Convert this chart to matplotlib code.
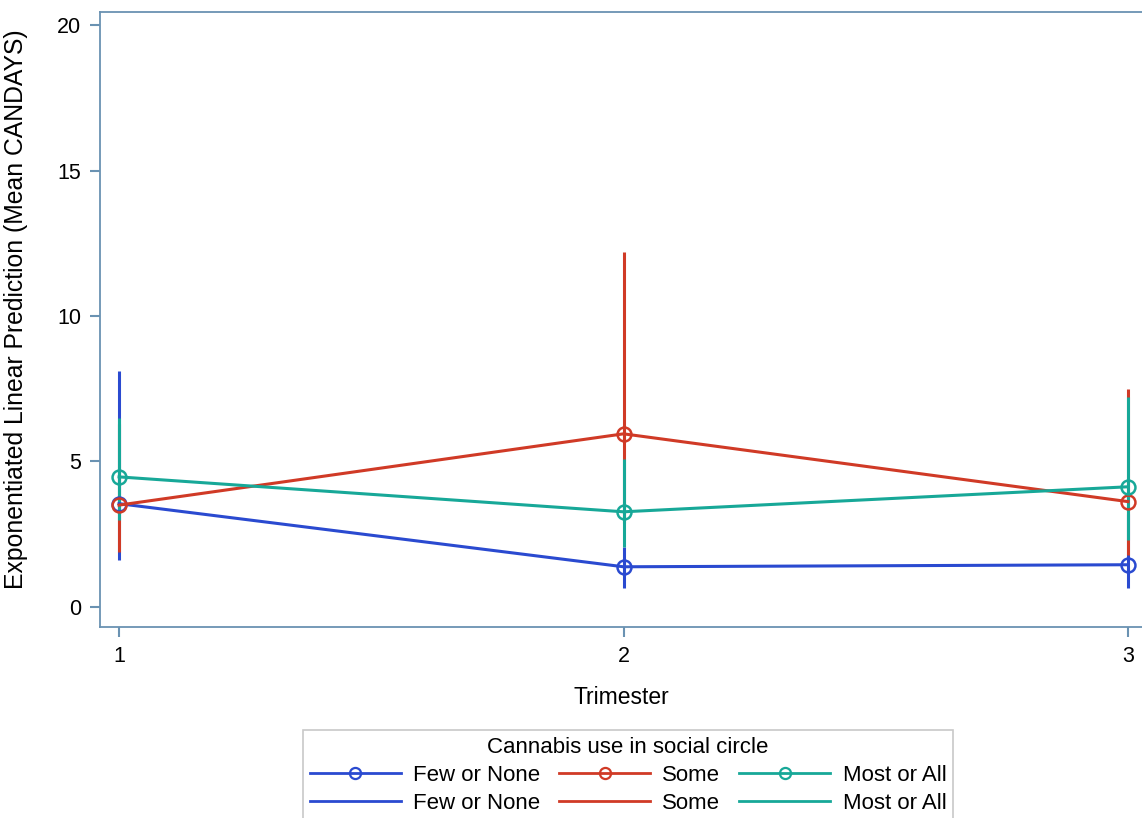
import numpy as np
import matplotlib
matplotlib.use('Agg')
import matplotlib.pyplot as plt
from matplotlib.lines import Line2D

# --- datos ---
trimestre = [1, 2, 3]
grupos = ['Few or None', 'Some', 'Most or All']
colores = ['#2a4ad0', '#d03a26', '#17a898']

media_few = [3.55, 1.38, 1.45]
lo_few = [1.6, 0.65, 0.65]
hi_few = [8.1, 2.06, 3.2]

media_some = [3.5, 5.95, 3.62]
lo_some = [1.9, 2.9, 1.8]
hi_some = [6.3, 12.2, 7.5]

media_most = [4.47, 3.27, 4.13]
lo_most = [3.0, 2.06, 2.3]
hi_most = [6.5, 5.1, 7.2]

medias = [media_few, media_some, media_most]
los = [lo_few, lo_some, lo_most]
his = [hi_few, hi_some, hi_most]

plt.rcParams['font.family'] = ['Liberation Sans', 'DejaVu Sans']

fig = plt.figure(figsize=(11.42, 8.18), dpi=100)
ax = fig.add_axes([0.0876, 0.2335, 0.9124, 0.7518])

eje_col = '#6a92b2'

for m, lo, hi, c in zip(medias, los, his, colores):
    ax.vlines(trimestre, lo, hi, colors=c, lw=2.2, zorder=2)
for m, c in zip(medias, colores):
    ax.plot(trimestre, m, color=c, lw=2.2, marker='o', ms=10, mfc='none',
            mec=c, mew=1.8, zorder=3)

ax.set_xlim(0.9623, 3.0277)
ax.set_ylim(-0.69, 20.45)
ax.set_xticks(trimestre)
ax.set_yticks([0, 5, 10, 15, 20])
ax.tick_params(labelsize=15.5, color=eje_col, length=7.5, width=1.5, pad=6)
for sp in ax.spines.values():
    sp.set_color(eje_col)
    sp.set_linewidth(1.3)
ax.spines['right'].set_visible(False)

ax.set_xlabel('Trimester', fontsize=16.5, labelpad=14)
ax.set_ylabel('Exponentiated Linear Prediction (Mean CANDAYS)', fontsize=17.8)
ax.yaxis.set_label_coords(-0.069, 0.517)

# leyenda: fila con marcador y fila sin marcador
handles = []
labels = []
for g, c in zip(grupos, colores):
    handles.append(Line2D([], [], color=c, lw=2, marker='o', ms=8, mfc='none', mec=c, mew=1.6))
    labels.append(g)
    handles.append(Line2D([], [], color=c, lw=2))
    labels.append(g)

leg = fig.legend(handles, labels, ncol=3, loc='upper center', bbox_to_anchor=(0.55, 0.1076),
                 title='Cannabis use in social circle', fontsize=16, title_fontsize=16,
                 frameon=True, fancybox=False, edgecolor='#bbbbbb', handlelength=4.1,
                 columnspacing=0.85, handletextpad=0.55, labelspacing=0.32, borderpad=0.3,
                 borderaxespad=0)
leg.get_frame().set_linewidth(1.2)

fig.savefig('out.png', dpi=100)
